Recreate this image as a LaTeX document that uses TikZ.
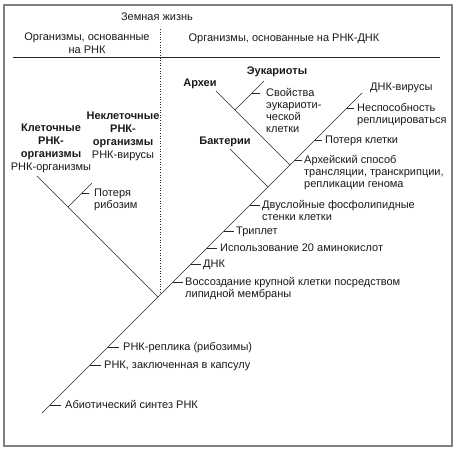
\documentclass[tikz,border=0pt]{standalone}
\usepackage{fontspec}
\setmainfont{Liberation Sans}
\begin{document}
\begin{tikzpicture}[x=1pt,y=1pt,
  br/.style={line width=0.6pt, draw=black!85},
  lab/.style={inner sep=0pt, font=\fontsize{11}{12}\selectfont, text=black!90, align=left, anchor=base west},
  hd/.style={inner sep=0pt, font=\fontsize{11}{12.5}\selectfont, text=black!90, align=center},
  grp/.style={inner sep=0pt, font=\fontsize{11}{13}\selectfont, text=black!90, align=center},
  bl/.style={inner sep=0pt, font=\fontsize{11}{12}\selectfont\bfseries, text=black!90, align=center}]
\useasboundingbox (0,0) rectangle (457,450);
\draw[gray, line width=1.3pt] (4,4) rectangle (452,445);

% headers
\node[hd] (earth) at (157,433) {Земная жизнь};
\node[hd] (rna) at (87,407) {Организмы, основанные\\на РНК};
\node[hd] (rnadna) at (284,411) {Организмы, основанные на РНК-ДНК};
\coordinate (hl) at (13,393); \coordinate (hr) at (440,393);
\draw[br] (hl) -- (hr);
\coordinate (dt) at (160,421); \coordinate (db) at (160,156);
\draw[black!85, line width=0.6pt, dotted] (dt) -- (db);

% trunk
\coordinate (root) at (42,37); \coordinate (top) at (362,357);
\draw[br] (root) -- (top);
\node[lab] (dnav) at (370,359.5) {ДНК-вирусы};

% left branch
\coordinate (fork) at (158,153); \coordinate (lend) at (37,274);
\draw[br] (fork) -- (lend);
\coordinate (rs) at (68,243); \coordinate (rend) at (92,267);
\draw[br] (rs) -- (rend);
\coordinate (rt) at (82,257); \coordinate (rte) at (89,257);
\draw[br] (rt) -- (rte);
\node[lab] (ribo) at (94,241.3) {Потеря\\рибозим};
\node[grp] (cell) at (51,301.5) {\textbf{Клеточные}\\\textbf{РНК-}\\\textbf{организмы}\\РНК-организмы};
\node[grp] (noncell) at (123,314) {\textbf{Неклеточные}\\\textbf{РНК-}\\\textbf{организмы}\\РНК-вирусы};

% archaea / eukaryotes
\coordinate (ab) at (290,285); \coordinate (aend) at (216,359);
\draw[br] (ab) -- (aend);
\coordinate (es) at (235,340); \coordinate (eend) at (264,369);
\draw[br] (es) -- (eend);
\coordinate (et) at (252,357); \coordinate (ete) at (260,357);
\draw[br] (et) -- (ete);
\node[lab] (euprop) at (266,317.3) {Свойства\\эукариоти-\\ческой\\клетки};
\node[bl] (arch) at (200,366) {Археи};
\node[bl] (euk) at (277,378) {Эукариоты};

% bacteria
\coordinate (bb) at (268,263); \coordinate (bend) at (230,301);
\draw[br] (bb) -- (bend);
\node[bl] (bact) at (225,308) {Бактерии};

% ticks on trunk
\coordinate (t1) at (347,342); \coordinate (t1e) at (354,342);
\draw[br] (t1) -- (t1e);
\node[lab] (l1) at (357,326.3) {Неспособность\\реплицироваться};
\coordinate (t2) at (315,310); \coordinate (t2e) at (322,310);
\draw[br] (t2) -- (t2e);
\node[lab] (l2) at (325,306.3) {Потеря клетки};
\coordinate (t3) at (295,290); \coordinate (t3e) at (302,290);
\draw[br] (t3) -- (t3e);
\node[lab] (l3) at (304,262.3) {Архейский способ\\трансляции, транскрипции,\\репликации генома};
\coordinate (t4) at (250,245); \coordinate (t4e) at (260,245);
\draw[br] (t4) -- (t4e);
\node[lab] (l4) at (262,229.3) {Двуслойные фосфолипидные\\стенки клетки};
\coordinate (t5) at (224,219); \coordinate (t5e) at (234,219);
\draw[br] (t5) -- (t5e);
\node[lab] (l5) at (236,215.3) {Триплет};
\coordinate (t6) at (207,202); \coordinate (t6e) at (217,202);
\draw[br] (t6) -- (t6e);
\node[lab] (l6) at (220,198.3) {Использование 20 аминокислот};
\coordinate (t7) at (191,186); \coordinate (t7e) at (201,186);
\draw[br] (t7) -- (t7e);
\node[lab] (l7) at (203,182.3) {ДНК};
\coordinate (t8) at (173,168); \coordinate (t8e) at (183,168);
\draw[br] (t8) -- (t8e);
\node[lab] (l8) at (185,152.3) {Воссоздание крупной клетки посредством\\липидной мембраны};
\coordinate (t9) at (108,103); \coordinate (t9e) at (119,103);
\draw[br] (t9) -- (t9e);
\node[lab] (l9) at (123,99.3) {РНК-реплика (рибозимы)};
\coordinate (t10) at (90,85); \coordinate (t10e) at (101,85);
\draw[br] (t10) -- (t10e);
\node[lab] (l10) at (104,81.3) {РНК, заключенная в капсулу};
\coordinate (t11) at (50,45); \coordinate (t11e) at (61,45);
\draw[br] (t11) -- (t11e);
\node[lab] (l11) at (65,41.3) {Абиотический синтез РНК};
\end{tikzpicture}
\end{document}
